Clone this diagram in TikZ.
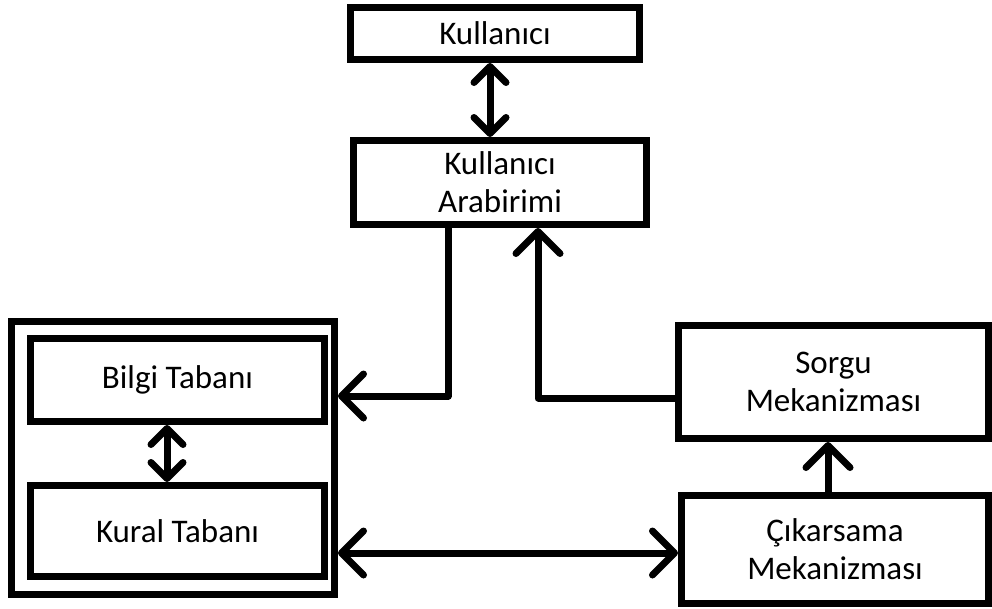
\documentclass[tikz,border=0pt]{standalone}
\usepackage{fontspec}
\setmainfont{Carlito}
\usetikzlibrary{arrows.meta}
\begin{document}
\begin{tikzpicture}[x=1pt,y=-1pt,
  box/.style={draw=black,line width=7pt,inner sep=0pt,align=center,
    font=\fontsize{33}{38}\selectfont},
  conn/.style={line width=7pt,line cap=round,line join=round},
  bighead/.tip={Straight Barb[length=22pt,width=44pt,line width=7pt,line cap=round,line join=round]},
  smallhead/.tip={Straight Barb[length=16pt,width=32pt,line width=7pt,line cap=round,line join=round]}]
\useasboundingbox[fill=white] (0,0) rectangle (992,608);
\node[box,minimum width=289pt,minimum height=52pt] (kul) at (495,33.5) {Kullanıcı};
\node[box,minimum width=293pt,minimum height=84pt] (arab) at (500,182.5) {Kullanıcı\\Arabirimi};
\node[box,minimum width=323pt,minimum height=273pt] (outer) at (173,458) {};
\node[box,minimum width=294pt,minimum height=83pt] (bilgi) at (177.5,380) {Bilgi Tabanı};
\node[box,minimum width=294pt,minimum height=91pt] (kural) at (177.5,531) {Kural Tabanı};
\node[box,minimum width=310pt,minimum height=113pt] (sorgu) at (833.5,382) {Sorgu\\Mekanizması};
\node[box,minimum width=307pt,minimum height=108pt] (cik) at (835,549.5) {Çıkarsama\\Mekanizması};
\coordinate (c1) at (448,396);
\coordinate (c2) at (538,398);
\coordinate (c3) at (490,0);
\coordinate (c4) at (167,0);
\coordinate (c5) at (828,0);
\coordinate (c6) at (0,553);
\draw[conn,smallhead-smallhead] (kul.south -| c3) -- (arab.north -| c3);
\draw[conn,smallhead-smallhead] (bilgi.south -| c4) -- (kural.north -| c4);
\draw[conn,-bighead] (arab.south -| c1) |- (outer.east |- c1);
\draw[conn,-bighead] (sorgu.west |- c2) -| (arab.south -| c2);
\draw[conn,-bighead] (cik.north -| c5) -- (sorgu.south -| c5);
\draw[conn,bighead-bighead] (outer.east |- c6) -- (cik.west |- c6);
\end{tikzpicture}
\end{document}
